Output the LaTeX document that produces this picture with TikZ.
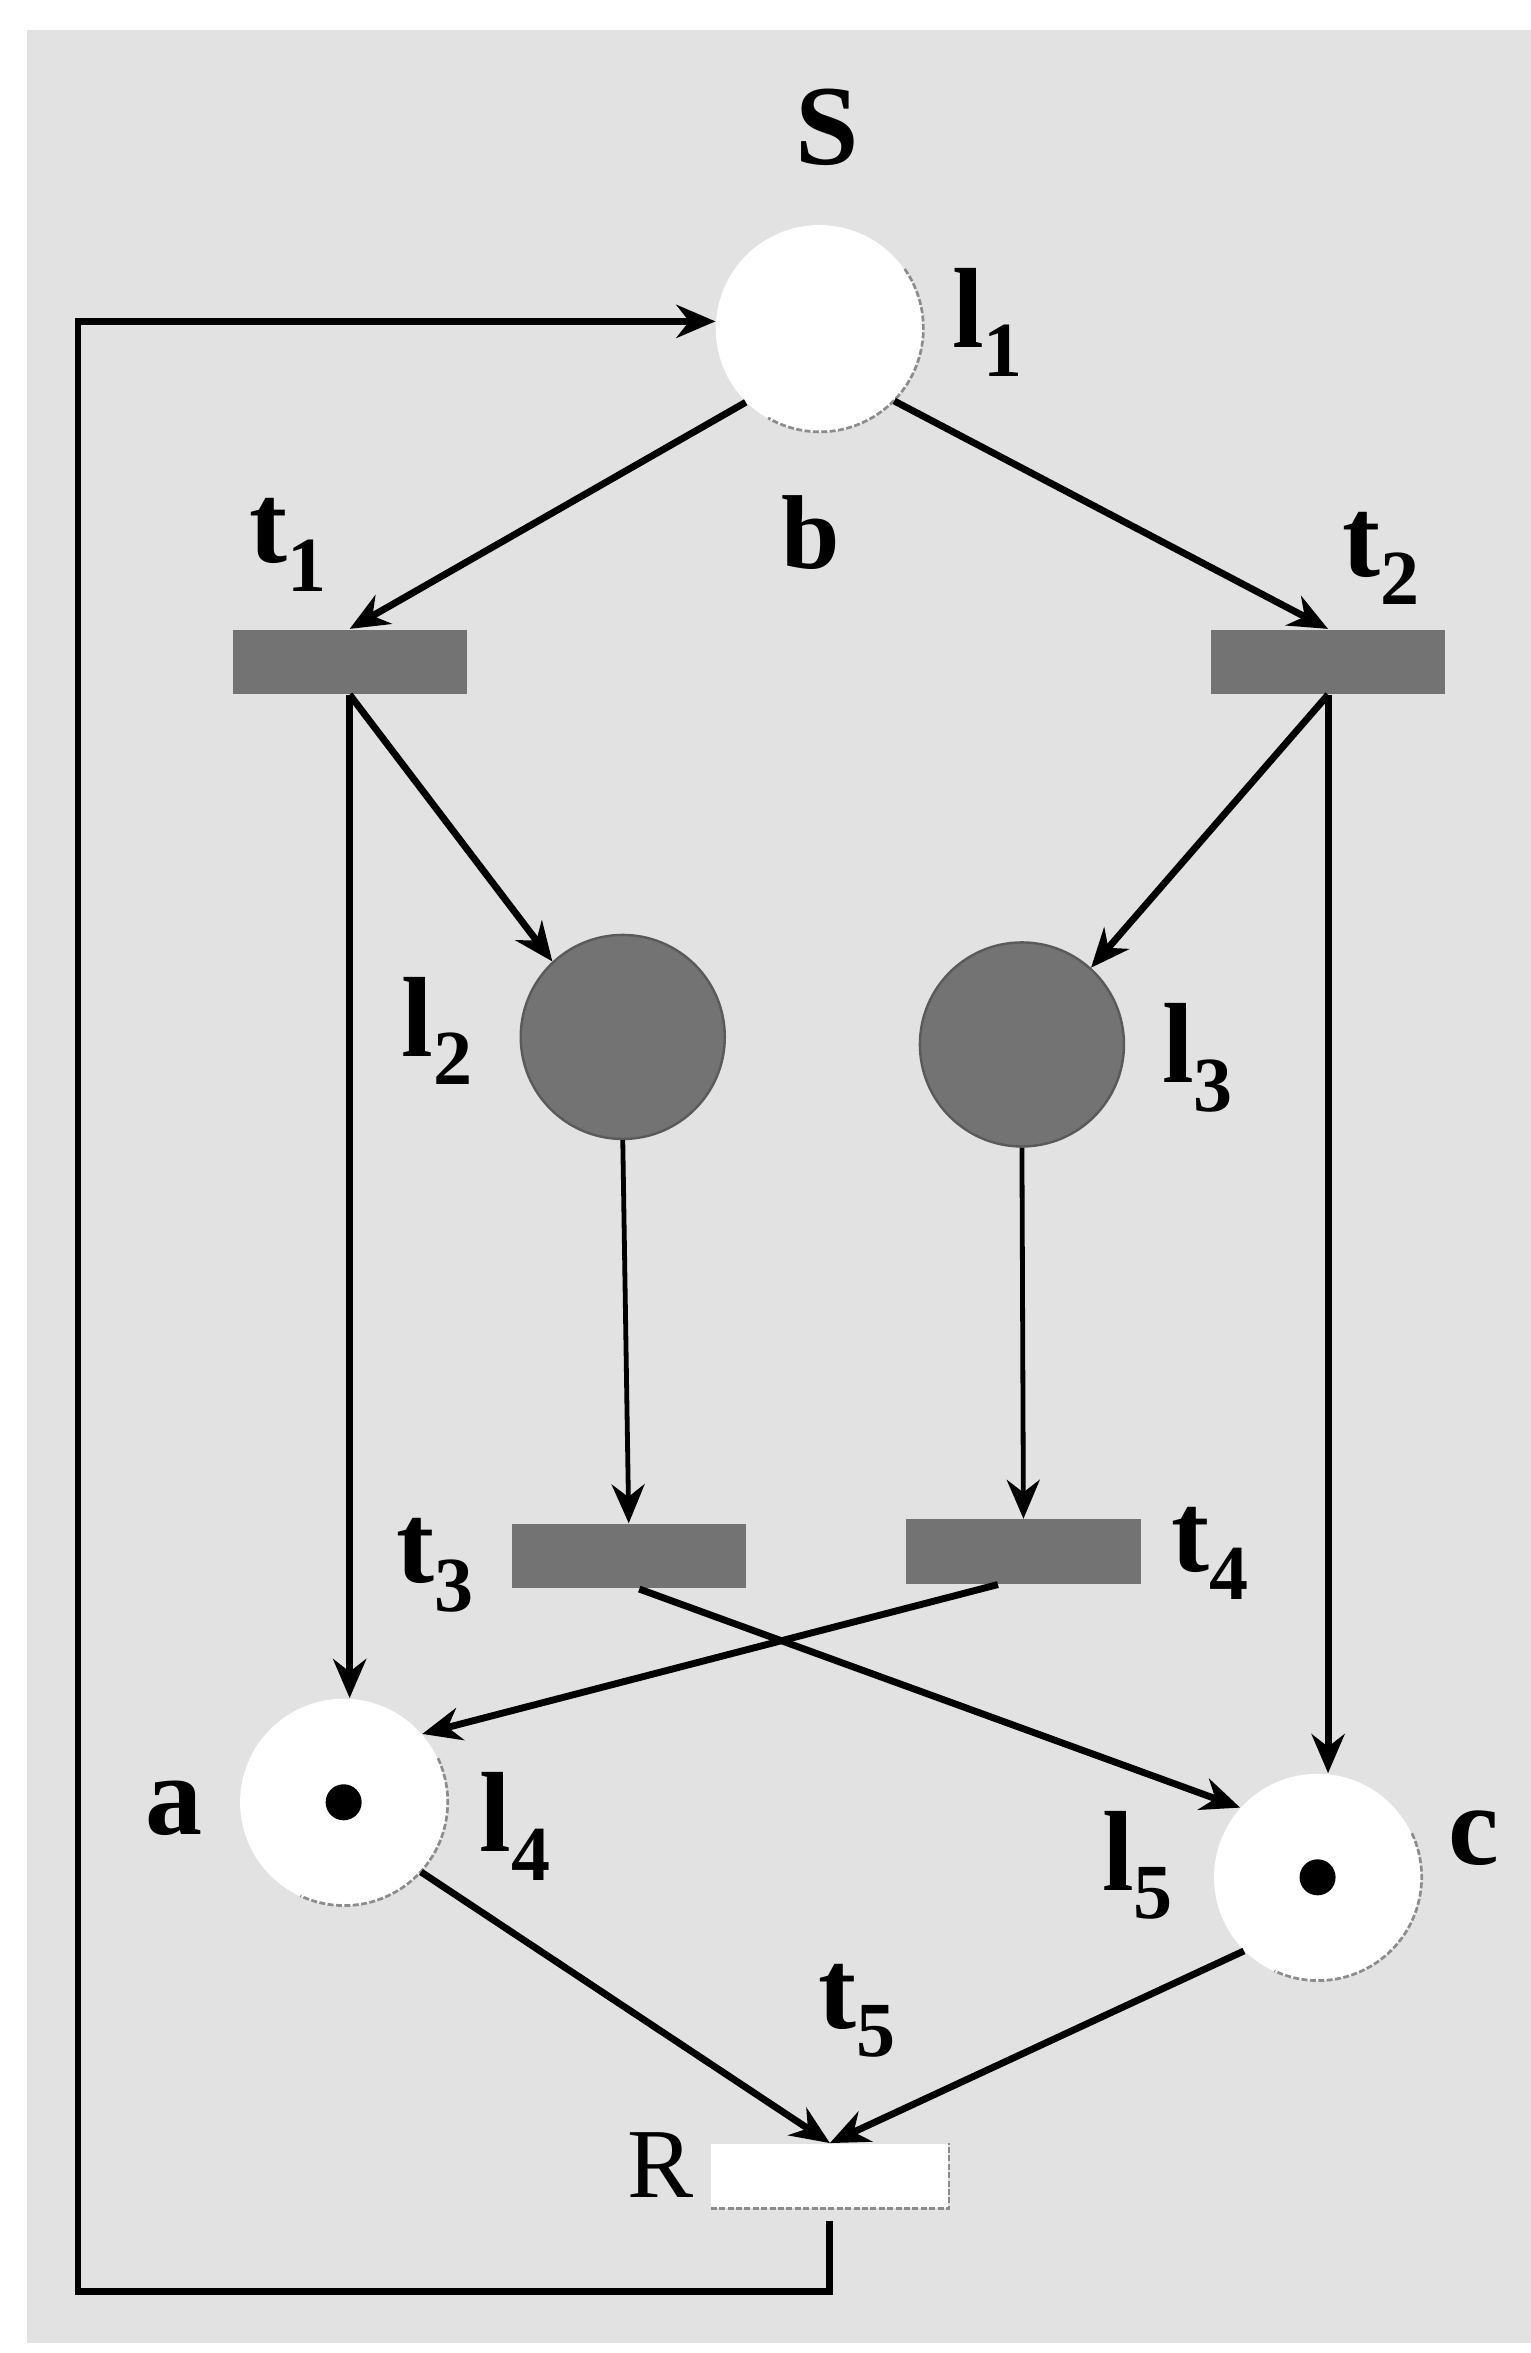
\documentclass[tikz,border=0pt]{standalone}
\usepackage{fontspec}
\setmainfont{Liberation Serif}
\usetikzlibrary{arrows.meta}
\definecolor{bggray}{RGB}{226,226,226}
\definecolor{trgray}{RGB}{115,115,115}
\definecolor{edgedark}{RGB}{90,90,90}
\definecolor{rimgray}{RGB}{140,140,140}
\newcommand{\lbsub}[2]{#1\raisebox{-9.5pt}{\fontsize{26}{26}\selectfont #2}}
\begin{document}
\begin{tikzpicture}[x=0.5pt,y=-0.5pt,
  place/.style={circle, minimum size=69pt, inner sep=0pt, fill=white},
  darkplace/.style={circle, minimum size=68pt, inner sep=0pt, fill=trgray, draw=edgedark, line width=0.8pt},
  trans/.style={rectangle, minimum width=78pt, minimum height=21.5pt, inner sep=0pt, fill=trgray},
  rbox/.style={rectangle, minimum width=79pt, minimum height=21.5pt, inner sep=0pt, fill=white},
  lbl/.style={inner sep=0pt, font=\fontsize{38}{40}\selectfont\bfseries},
  arcs/.style={line width=2.3pt, -{Stealth[length=13pt,width=11pt]}},
  thinarcs/.style={line width=1.6pt, -{Stealth[length=13pt,width=11pt]}},
  token/.style={circle, fill=black, minimum size=12pt, inner sep=0pt},
  rim/.style={draw=rimgray, line width=0.9pt, dash pattern=on 2pt off 0.8pt}
]
\useasboundingbox (0,0) rectangle (1020,1568);
\fill[white] (0,0) rectangle (1020,1568);
\fill[bggray] (18,20) rectangle (1020,1561);

% places
\node[place] (l1) at (546,219) {};
\node[darkplace] (l2) at (415,691) {};
\node[darkplace] (l3) at (681,696) {};
\node[place] (l4) at (229,1201) {};
\node[place] (l5) at (878,1251) {};
\node[token] (tok4) at (l4.center) {};
\node[token] (tok5) at (l5.center) {};

% rims
\draw[rim] (l1.35) arc[start angle=35, end angle=-120, radius=34.5pt];
\draw[rim] (l4.25) arc[start angle=25, end angle=-115, radius=34.5pt];
\draw[rim] (l5.25) arc[start angle=25, end angle=-115, radius=34.5pt];

% transitions
\node[trans] (t1) at (233,441) {};
\node[trans] (t2) at (885,441) {};
\node[trans] (t3) at (419,1037) {};
\node[trans] (t4) at (682,1034) {};
\node[rbox] (R) at (553,1450) {};
\draw[rim] (R.south west) -- (R.south east) -- (R.north east);

% labels
\node[lbl] (Slab) at (551,85) {S};
\node[lbl] (l1lab) at (658,215) {\lbsub{l}{1}};
\node[lbl, font=\fontsize{35}{36}\selectfont\bfseries] (blab) at (540,355) {b};
\node[lbl] (t1lab) at (192,363) {\lbsub{t}{1}};
\node[lbl] (t2lab) at (920,372) {\lbsub{t}{2}};
\node[lbl] (l2lab) at (291,687) {\lbsub{l}{2}};
\node[lbl] (l3lab) at (798,705) {\lbsub{l}{3}};
\node[lbl] (t3lab) at (290,1043) {\lbsub{t}{3}};
\node[lbl] (t4lab) at (806,1035) {\lbsub{t}{4}};
\node[lbl] (alab) at (116,1205) {a};
\node[lbl] (l4lab) at (343,1217) {\lbsub{l}{4}};
\node[lbl] (l5lab) at (758,1243) {\lbsub{l}{5}};
\node[lbl] (clab) at (982,1225) {c};
\node[lbl] (t5lab) at (571,1340) {\lbsub{t}{5}};
\node[lbl, font=\fontsize{33}{34}\selectfont] (Rlab) at (440,1443) {R};

% connectors
\coordinate (fbl) at (52,1527);
\draw[arcs, shorten <=4pt] (R.south) |- (fbl) |- (l1.176);
\draw[arcs] (l1.225) -- (t1.north);
\draw[arcs] (l1.-44) -- (t2.north);
\draw[arcs] (t1.south) -- (l2.133);
\draw[arcs] (t1.south) -- (t1.south |- l4.north);
\draw[arcs] (t2.south) -- (l3.48);
\draw[arcs] (t2.south) -- (t2.south |- l5.north);
\draw[thinarcs] (l2.south) -- (t3.north);
\draw[thinarcs] (l3.south) -- (t4.north);
\draw[arcs] ([xshift=3.5pt]t3.south) -- (l5.138);
\draw[arcs] ([xshift=-8.5pt]t4.south) -- (l4.41);
\draw[arcs] (l4.-42) -- (R.north);
\draw[arcs] (l5.225) -- (R.north);
\end{tikzpicture}
\end{document}
